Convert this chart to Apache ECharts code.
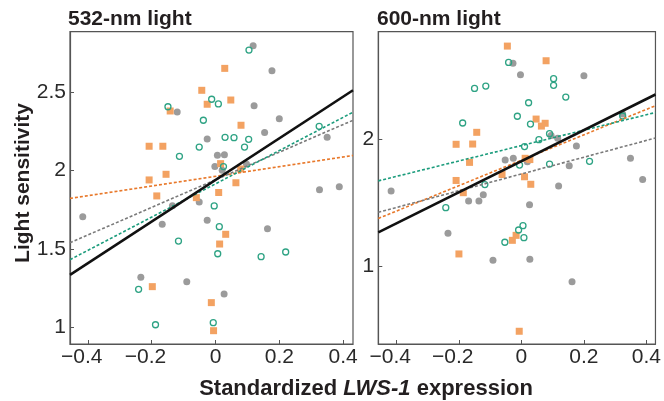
<!DOCTYPE html>
<html><head><meta charset="utf-8">
<script src="https://cdn.jsdelivr.net/npm/echarts@6/dist/echarts.min.js"></script>
<style>html,body{margin:0;padding:0;background:#fff}#c{width:664px;height:401px}</style>
</head><body><div id="c"></div>
<script>
// ---- tick labels ----
const xTicks = [-0.4, -0.2, 0, 0.2, 0.4];
const yTicks532 = [1, 1.5, 2, 2.5];
const yTicks600 = [1, 2];
const panelTitles = ['532-nm light', '600-nm light'];

// ---- 532-nm panel data [x, y] ----
const gray532 = [[0.118,2.798],[0.177,2.638],[-0.120,2.375],[0.121,2.415],[0.200,2.332],[0.154,2.243],[0.350,2.213],[-0.026,2.202],[0.006,2.098],[0.028,2.102],[-0.002,2.026],[0.021,2.003],[0.097,2.043],[0.326,1.879],[0.388,1.898],[-0.051,1.800],[-0.416,1.706],[-0.135,1.777],[-0.167,1.658],[-0.026,1.683],[0.163,1.630],[-0.234,1.320],[-0.090,1.292],[0.027,1.213]];
const green532 = [[0.105,2.770],[-0.149,2.408],[-0.012,2.456],[0.009,2.426],[-0.038,2.322],[-0.051,2.151],[-0.113,2.092],[0.325,2.283],[0.030,2.213],[0.058,2.211],[0.104,2.200],[0.091,2.151],[0.025,2.026],[-0.004,1.775],[0.012,1.643],[-0.116,1.551],[-0.241,1.243],[-0.188,1.017],[0.007,1.470],[0.143,1.451],[0.220,1.481],[-0.007,1.030]];
const orange532 = [[-0.043,2.513],[0.029,2.653],[-0.026,2.424],[-0.142,2.381],[0.048,2.451],[-0.208,2.156],[-0.165,2.156],[0.080,2.290],[-0.155,1.977],[-0.208,1.941],[0.016,2.045],[0.079,2.011],[0.064,1.923],[-0.184,1.839],[0.010,1.861],[-0.060,1.828],[0.032,1.594],[0.013,1.532],[-0.198,1.260],[-0.013,1.158],[-0.006,0.979]];

// ---- 600-nm panel data [x, y] ----
const gray600 = [[-0.027,2.597],[-0.003,2.507],[0.200,2.499],[-0.052,1.838],[-0.026,1.851],[-0.417,1.594],[-0.122,1.565],[-0.169,1.516],[-0.136,1.516],[-0.235,1.262],[-0.091,1.050],[0.116,2.008],[0.095,2.030],[0.176,1.947],[0.019,1.824],[0.153,1.793],[0.349,1.851],[0.119,1.633],[0.388,1.684],[0.026,1.487],[0.027,1.058],[0.162,0.882],[0.324,2.199]];
const green600 = [[-0.041,2.604],[-0.150,2.400],[-0.114,2.418],[-0.188,2.128],[-0.013,2.181],[0.103,2.476],[0.103,2.424],[0.142,2.332],[0.023,2.287],[0.029,2.120],[0.324,2.183],[0.090,2.044],[0.056,1.997],[0.010,1.943],[-0.117,1.645],[-0.006,1.798],[0.090,1.806],[0.218,1.827],[-0.242,1.463],[-0.053,1.192],[0.005,1.322],[-0.009,1.288],[0.008,1.228]];
const orange600 = [[-0.045,2.732],[0.079,2.617],[-0.143,2.055],[-0.209,1.961],[-0.156,1.963],[-0.166,1.819],[0.047,2.159],[0.076,2.126],[0.064,2.104],[0.012,1.851],[0.027,1.841],[-0.209,1.677],[-0.062,1.724],[-0.186,1.581],[0.010,1.706],[0.030,1.647],[-0.200,1.100],[-0.029,1.207],[-0.017,1.246],[-0.007,0.493]];

// ---- fitted lines [intercept, slope] ----
const fitAll532 = [1.941, 1.328];
const fitOrange532 = [1.964, 0.309];
const fitGray532 = [1.942, 0.881];
const fitGreen532 = [1.916, 1.061];
const fitAll600 = [1.828, 1.221];
const fitOrange600 = [1.836, 0.998];
const fitGray600 = [1.728, 0.658];
const fitGreen600 = [1.951, 0.605];

const xRange532 = [-0.456, 0.431], yRange532 = [0.894, 2.887];
const xRange600 = [-0.458, 0.429], yRange600 = [0.393, 2.845];

const FONT = '"Liberation Sans", Arial, Helvetica, sans-serif';
const C_GRAY = '#9b9b9b', C_GREEN = '#2ea384', C_ORANGE = '#f3a262';
// minus sign hangs to the left: a transparent copy on the right keeps the number centred on the tick
const fmtX = v => (v < 0 ? '\u2212' + String(Math.abs(v)) + '{h|\u2212}' : String(v));
const fmtY = v => String(v);

function lineData(fit, xr) { return xr.map(x => [x, fit[0] + fit[1] * x]); }

function xAxisCfg(idx, xr) {
  return { type: 'value', gridIndex: idx, min: xr[0], max: xr[1], splitLine: {show: false},
    axisLine: {show: true, onZero: false, lineStyle: {color: '#555', width: 1.2}},
    axisTick: {show: true, inside: true, length: 4, customValues: xTicks, lineStyle: {color: '#555'}},
    axisLabel: {customValues: xTicks, formatter: fmtX, fontSize: 21, color: '#2a2a2a', fontFamily: FONT, margin: 3,
      rich: {h: {fontSize: 21, fontFamily: FONT, color: 'rgba(0,0,0,0)'}}} };
}
function yAxisCfg(idx, yr, ticks) {
  return { type: 'value', gridIndex: idx, min: yr[0], max: yr[1], splitLine: {show: false},
    axisLine: {show: true, onZero: false, lineStyle: {color: '#555', width: 1.2}},
    axisTick: {show: true, inside: true, length: 4, customValues: ticks, lineStyle: {color: '#555'}},
    axisLabel: {customValues: ticks, formatter: fmtY, fontSize: 21, color: '#2a2a2a', fontFamily: FONT, margin: 4} };
}
function scatter(idx, data, kind) {
  const s = {type: 'scatter', xAxisIndex: idx, yAxisIndex: idx, data: data, z: 2, silent: true};
  if (kind === 'gray') { s.symbol = 'circle'; s.symbolSize = 7; s.itemStyle = {color: C_GRAY, opacity: 1}; }
  if (kind === 'orange') { s.symbol = 'rect'; s.symbolSize = 7; s.itemStyle = {color: C_ORANGE, opacity: 1}; }
  if (kind === 'green') { s.symbol = 'circle'; s.symbolSize = 6; s.itemStyle = {color: 'rgba(255,255,255,0)', borderColor: C_GREEN, borderWidth: 1.3, opacity: 1}; }
  return s;
}
function fitLine(idx, fit, xr, color, solid) {
  return {type: 'line', xAxisIndex: idx, yAxisIndex: idx, data: lineData(fit, xr), symbol: 'none', silent: true,
    z: solid ? 5 : 4,
    lineStyle: solid ? {color: '#111', width: 2.6} : {color: color, width: 1.6, type: [3, 2]}};
}

const chart = echarts.init(document.getElementById('c'), null, {renderer: 'canvas'});
chart.setOption({
  animation: false,
  backgroundColor: '#fff',
  grid: [
    {left: 70, top: 31.7, width: 283, height: 312.3, show: true, borderColor: '#555', borderWidth: 1.2, containLabel: false},
    {left: 378.3, top: 31.7, width: 283, height: 312.3, show: true, borderColor: '#555', borderWidth: 1.2, containLabel: false}
  ],
  xAxis: [xAxisCfg(0, xRange532), xAxisCfg(1, xRange600)],
  yAxis: [yAxisCfg(0, yRange532, yTicks532), yAxisCfg(1, yRange600, yTicks600)],
  series: [
    scatter(0, gray532, 'gray'), scatter(0, orange532, 'orange'), scatter(0, green532, 'green'),
    scatter(1, gray600, 'gray'), scatter(1, orange600, 'orange'), scatter(1, green600, 'green'),
    fitLine(0, fitOrange532, xRange532, '#e8782a', false),
    fitLine(0, fitGray532, xRange532, '#7a7a7a', false),
    fitLine(0, fitGreen532, xRange532, '#1b9c7c', false),
    fitLine(0, fitAll532, xRange532, '#111', true),
    fitLine(1, fitOrange600, xRange600, '#e8782a', false),
    fitLine(1, fitGray600, xRange600, '#7a7a7a', false),
    fitLine(1, fitGreen600, xRange600, '#1b9c7c', false),
    fitLine(1, fitAll600, xRange600, '#111', true)
  ],
  graphic: [
    {type: 'text', x: 68, y: 19, style: {text: panelTitles[0], font: 'bold 21px ' + FONT, fill: '#231f20', align: 'left', verticalAlign: 'middle'}},
    {type: 'text', x: 377, y: 19, style: {text: panelTitles[1], font: 'bold 21px ' + FONT, fill: '#231f20', align: 'left', verticalAlign: 'middle'}},
    {type: 'text', x: 23, y: 183, rotation: Math.PI / 2, style: {text: 'Light sensitivity', font: 'bold 21px ' + FONT, fill: '#231f20', align: 'center', verticalAlign: 'middle'}},
    {type: 'text', x: 366, y: 389, style: {
      text: '{b|Standardized }{i|LWS-1}{b| expression}', align: 'center', verticalAlign: 'middle',
      rich: {b: {font: 'bold 22px ' + FONT, fill: '#231f20'}, i: {font: 'italic bold 22px ' + FONT, fill: '#231f20'}}
    }}
  ]
});
</script></body></html>
